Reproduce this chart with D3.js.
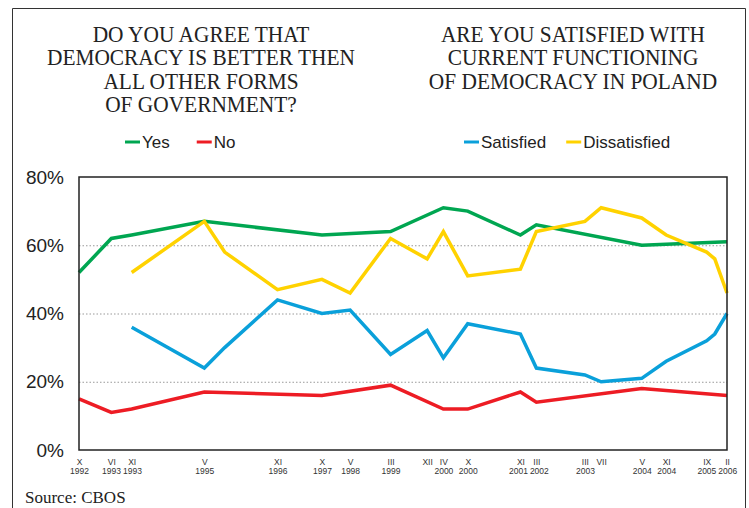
<!DOCTYPE html>
<html>
<head>
<meta charset="utf-8">
<script src="https://cdn.jsdelivr.net/npm/d3@7"></script>
<style>
  body { margin: 0; background: #fff; }
  svg { display: block; }
</style>
</head>
<body>
<svg id="chart"></svg>
<script>
// survey dates (year-month) and results
const dates = ["1992-10", "1993-06", "1993-11", "1995-05", "1995-10", "1996-11", "1997-10", "1998-05",
    "1999-03", "1999-12", "2000-04", "2000-10", "2001-11", "2002-03", "2003-03", "2003-07",
    "2004-05", "2004-11", "2005-09", "2005-11", "2006-02"];
const yes = [52, 62, 63, 67, null, null, 63, null, 64, null, 71, 70, 63, 66, null, null, 60, null, null, null, 61];
const no = [15, 11, 12, 17, null, null, 16, null, 19, null, 12, 12, 17, 14, null, null, 18, null, null, null, 16];
const satisfied = [null, null, 36, 24, 30, 44, 40, 41, 28, 35, 27, 37, 34, 24, 22, 20, 21, 26, 32, 34, 40];
const dissatisfied = [null, null, 52, 67, 58, 47, 50, 46, 62, 56, 64, 51, 53, 64, 67, 71, 68, 63, 58, 56, 46];

const tickDates = ["1992-10", "1993-06", "1993-11", "1995-05", "1996-11", "1997-10", "1998-05", "1999-03",
    "1999-12", "2000-04", "2000-10", "2001-11", "2002-03", "2003-03", "2003-07", "2004-05",
    "2004-11", "2005-09", "2006-02"];
const tickMonths = ["X", "VI", "XI", "V", "XI", "X", "V", "III", "XII", "IV", "X", "XI", "III", "III", "VII",
    "V", "XI", "IX", "II"];
const tickYears = ["1992", "1993", "1993", "1995", "1996", "1997", "1998", "1999", "", "2000", "2000",
    "2001", "2002", "2003", "", "2004", "2004", "2005", "2006"];
const yTicks = [0, 20, 40, 60, 80];

const leftTitle = ["DO YOU AGREE THAT", "DEMOCRACY IS BETTER THEN", "ALL OTHER FORMS", "OF GOVERNMENT?"];
const rightTitle = ["ARE YOU SATISFIED WITH", "CURRENT FUNCTIONING", "OF DEMOCRACY IN POLAND"];

const width = 749, height = 508;
const margin = {top: 177, right: 22, bottom: 58, left: 79};
const parse = d3.timeParse("%Y-%m");

const series = [
    {name: "Yes", values: yes, color: "#00a651"},
    {name: "No", values: no, color: "#ed1c24"},
    {name: "Satisfied", values: satisfied, color: "#0aa0da"},
    {name: "Dissatisfied", values: dissatisfied, color: "#ffd200"}
];

const svg = d3.select("#chart").attr("width", width).attr("height", height);

// outer frame (open at the bottom, the page cuts it)
svg.append("path")
    .attr("d", `M12.5,${height + 2}V8.5H745.5V${height + 2}`)
    .attr("fill", "none")
    .attr("stroke", "#333")
    .attr("stroke-width", 1);

const x = d3.scaleTime()
    .domain([parse(dates[0]), parse(dates[dates.length - 1])])
    .range([margin.left, width - margin.right]);
const y = d3.scaleLinear()
    .domain([0, 80])
    .range([height - margin.bottom, margin.top]);

// titles
const titleScale = 0.93;
function title(lines, cx) {
    svg.append("g")
        .attr("transform", `scale(${titleScale},1)`)
        .selectAll("text")
        .data(lines)
        .join("text")
        .attr("x", cx / titleScale)
        .attr("y", (d, i) => 42 + i * 23.5)
        .attr("text-anchor", "middle")
        .style("font-family", "'Liberation Serif', 'Times New Roman', serif")
        .style("font-size", "23px")
        .style("fill", "#222")
        .text(d => d);
}
title(leftTitle, 201);
title(rightTitle, 573);

// legends
function legend(items, x0, gap) {
    const g = svg.append("g").attr("transform", `translate(${x0},142)`);
    let pos = 0;
    items.forEach(s => {
        g.append("line")
            .attr("x1", pos).attr("x2", pos + 15)
            .attr("stroke", s.color).attr("stroke-width", 3);
        const t = g.append("text")
            .attr("x", pos + 17)
            .attr("dy", "0.36em")
            .style("font-family", "'Liberation Sans', Arial, sans-serif")
            .style("font-size", "17px")
            .style("fill", "#222")
            .text(s.name);
        pos += 17 + t.node().getComputedTextLength() + gap;
    });
}
legend(series.slice(0, 2), 125, 27);
legend(series.slice(2), 464, 20);

// gridlines
svg.append("g")
    .selectAll("line")
    .data(yTicks.filter(d => d > 0 && d < 80))
    .join("line")
    .attr("x1", margin.left).attr("x2", width - margin.right)
    .attr("y1", d => y(d) + 0.5).attr("y2", d => y(d) + 0.5)
    .attr("stroke", "#999")
    .attr("stroke-width", 1)
    .attr("stroke-dasharray", "1.5,2");

// y axis
svg.append("g")
    .attr("transform", `translate(${margin.left},0)`)
    .call(d3.axisLeft(y).tickValues(yTicks).tickFormat(d => d + "%").tickSize(0).tickPadding(15))
    .call(g => g.select(".domain").remove())
    .selectAll("text")
    .style("font-family", "'Liberation Sans', Arial, sans-serif")
    .style("font-size", "19px")
    .style("fill", "#222");

// x axis with two-line labels
const xAxis = svg.append("g")
    .attr("transform", `translate(0,${height - margin.bottom})`)
    .call(d3.axisBottom(x).tickValues(tickDates.map(parse)).tickSize(0).tickFormat(""))
    .call(g => g.select(".domain").remove());
xAxis.selectAll(".tick text").remove();
const yearLabels = [];
xAxis.selectAll(".tick").each(function (d, i) {
    const t = d3.select(this).append("text")
        .attr("fill", "#333")
        .attr("text-anchor", "middle")
        .style("font-family", "'Liberation Sans', Arial, sans-serif")
        .style("font-size", "8.5px");
    t.append("tspan").attr("x", 0).attr("y", 14.5).text(tickMonths[i]);
    const yr = t.append("tspan").attr("x", 0).attr("y", 24).text(tickYears[i]);
    if (tickYears[i]) yearLabels.push({node: yr, cx: x(d), w: yr.node().getComputedTextLength(), dx: 0});
});
// push apart year labels that would touch
for (let k = 1; k < yearLabels.length; k++) {
    const a = yearLabels[k - 1], b = yearLabels[k];
    const gap = (b.cx + b.dx - b.w / 2) - (a.cx + a.dx + a.w / 2);
    if (gap < 2) {
        a.dx -= (2 - gap) / 2;
        b.dx += (2 - gap) / 2;
    }
}
yearLabels.forEach(l => l.node.attr("x", l.dx));

// lines
const line = d3.line()
    .x(d => x(d.date))
    .y(d => y(d.value));

svg.append("g")
    .selectAll("path")
    .data(series)
    .join("path")
    .attr("fill", "none")
    .attr("stroke", s => s.color)
    .attr("stroke-width", 3.5)
    .attr("stroke-linejoin", "miter")
    .attr("d", s => line(dates
        .map((dt, i) => ({date: parse(dt), value: s.values[i]}))
        .filter(d => d.value != null)));

// plot frame
svg.append("rect")
    .attr("x", margin.left)
    .attr("y", margin.top)
    .attr("width", width - margin.right - margin.left)
    .attr("height", height - margin.bottom - margin.top)
    .attr("fill", "none")
    .attr("stroke", "#222")
    .attr("stroke-width", 1.5);

// source
svg.append("text")
    .attr("x", 25)
    .attr("y", 503)
    .style("font-family", "'Liberation Serif', 'Times New Roman', serif")
    .style("font-size", "17px")
    .style("fill", "#222")
    .text("Source: CBOS");
</script>
</body>
</html>
